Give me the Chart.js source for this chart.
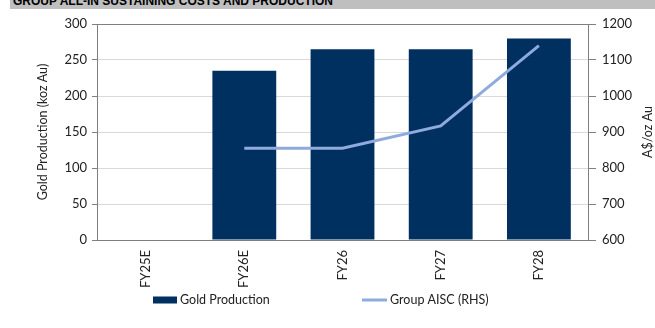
<!DOCTYPE html>
<html lang="en">
<head>
    <meta charset="utf-8">
    <title>Group AISC and Production</title>
    <script src="https://cdn.jsdelivr.net/npm/chart.js@4.4.1/dist/chart.umd.min.js"></script>
    <style>
        html, body { margin: 0; padding: 0; background: #fff; }
        .wrap { position: relative; width: 655px; height: 328px; overflow: hidden; }
        .title-bar {
            position: absolute; left: 10px; top: 0; width: 645px; height: 9px;
            background: #bfbfbf; overflow: hidden;
        }
        .title-bar span {
            position: absolute; left: 3px; top: -6px;
            font: bold 12px "Liberation Sans", Arial, sans-serif; color: #000;
            line-height: 14px; white-space: nowrap;
        }
        #combo { position: absolute; left: 0; top: 0; }
    </style>
</head>
<body>
<div class="wrap">
    <canvas id="combo" width="655" height="328"></canvas>
    <div class="title-bar"><span>GROUP ALL-IN SUSTAINING COSTS AND PRODUCTION</span></div>
</div>
<script>
    // values
    const years = ["FY25E", "FY26E", "FY26", "FY27", "FY28"];
    const goldProduction = [null, 235, 265, 265, 280];
    const groupAisc = [null, 855, 855, 917, 1140];
    const leftTicks = [0, 50, 100, 150, 200, 250, 300];
    const rightTicks = [600, 700, 800, 900, 1000, 1100, 1200];

    const navy = '#00305f';
    const lightBlue = '#8faadc';
    const fontFam = 'Lato, "Open Sans", sans-serif';
    const textCol = '#222';

    Chart.defaults.font.family = fontFam;
    Chart.defaults.font.size = 13;
    Chart.defaults.color = textCol;

    // legend + right axis title drawn by hand (Excel-like placement)
    const extras = {
        id: 'extras',
        afterDraw(chart) {
            const c = chart.ctx;
            c.save();
            c.font = '12.5px ' + fontFam;
            c.fillStyle = textCol;
            c.textBaseline = 'middle';

            // right axis title, reads bottom to top
            const area = chart.chartArea;
            c.save();
            c.translate(648, (area.top + area.bottom) / 2);
            c.rotate(-Math.PI / 2);
            c.textAlign = 'center';
            c.fillText('A$/oz Au', 0, 0);
            c.restore();

            // legend
            const ly = 300;
            const bar = chart.data.datasets[1];
            const line = chart.data.datasets[0];
            c.fillStyle = bar.backgroundColor;
            c.fillRect(153, ly - 3.5, 24, 7);
            c.fillStyle = textCol;
            c.textAlign = 'left';
            c.fillText(bar.label, 180, ly);

            c.strokeStyle = line.borderColor;
            c.lineWidth = 3;
            c.beginPath();
            c.moveTo(362, ly);
            c.lineTo(387, ly);
            c.stroke();
            c.fillText(line.label, 390, ly);
            c.restore();
        }
    };

    let ctx = document.getElementById('combo').getContext('2d');

    let combo = new Chart(ctx, {
        data: {
            labels: years,
            datasets: [
                {
                    type: 'line',
                    label: 'Group AISC (RHS)',
                    data: groupAisc,
                    yAxisID: 'y1',
                    borderColor: lightBlue,
                    backgroundColor: lightBlue,
                    borderWidth: 3,
                    pointRadius: 0,
                    tension: 0,
                    order: 0
                },
                {
                    type: 'bar',
                    label: 'Gold Production',
                    data: goldProduction,
                    yAxisID: 'y',
                    backgroundColor: navy,
                    categoryPercentage: 1,
                    barPercentage: 0.65,
                    order: 1
                }
            ]
        },
        options: {
            responsive: false,
            animation: false,
            layout: { padding: { top: 24, left: 0, right: 0, bottom: 0 } },
            plugins: {
                tooltip: { enabled: false },
                legend: { display: false }
            },
            scales: {
                x: {
                    grid: { display: false },
                    border: { display: true, color: '#7f7f7f', width: 1 },
                    ticks: { minRotation: 90, maxRotation: 90, padding: 2, font: { size: 13 } },
                    afterFit: (axis) => { axis.height = 88; }
                },
                y: {
                    position: 'left',
                    min: 0,
                    max: 300,
                    afterBuildTicks: (axis) => { axis.ticks = leftTicks.map(v => ({ value: v })); },
                    grid: {
                        color: (c) => c.tick && c.tick.value === 300 ? '#7f7f7f' : '#d9d9d9',
                        tickColor: '#7f7f7f',
                        tickLength: 5
                    },
                    border: { display: true, color: '#7f7f7f' },
                    ticks: { padding: 5, font: { size: 13 } },
                    title: {
                        display: true,
                        text: 'Gold Production (koz Au)',
                        font: { size: 12.5 },
                        padding: { top: 35, bottom: 0 }
                    },
                    afterFit: (axis) => { axis.width = 97; }
                },
                y1: {
                    position: 'right',
                    min: 600,
                    max: 1200,
                    afterBuildTicks: (axis) => { axis.ticks = rightTicks.map(v => ({ value: v })); },
                    grid: { drawOnChartArea: false, tickColor: '#7f7f7f', tickLength: 8 },
                    border: { display: true, color: '#7f7f7f' },
                    ticks: { padding: 6, font: { size: 13 }, callback: (v) => String(v) },
                    afterFit: (axis) => { axis.width = 67; }
                }
            }
        },
        plugins: [extras]
    });
</script>
</body>
</html>
